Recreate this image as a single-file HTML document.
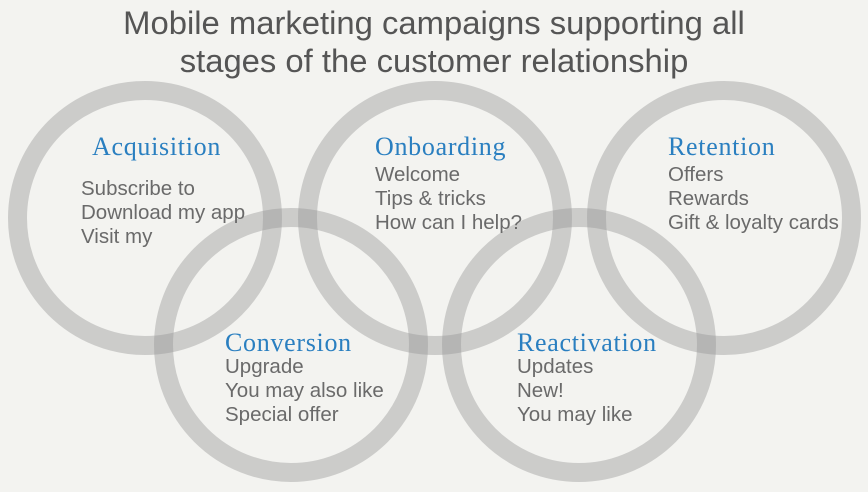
<!DOCTYPE html>
<html><head><meta charset="utf-8"><style>
html,body{margin:0;padding:0}
body{width:868px;height:492px;background:#f3f3f0;position:relative;overflow:hidden;font-family:"Liberation Sans",sans-serif}
.h{position:absolute;left:0;width:868px;top:4px;text-align:center;font-size:32.8px;line-height:38px;color:#555}
.t{position:absolute;font-family:"Liberation Serif",serif;font-size:26px;color:#2a7fc0;line-height:28px;letter-spacing:0.7px}
.b{position:absolute;font-size:20.5px;line-height:24px;color:#6a6a6a}
svg{position:absolute;left:0;top:0}
</style></head><body>
<svg width="868" height="492"><g fill="none" stroke="rgba(150,150,150,0.42)" stroke-width="19">
<circle cx="145" cy="218" r="127.5"/>
<circle cx="435" cy="218" r="127.5"/>
<circle cx="724" cy="218" r="127.5"/>
<circle cx="291" cy="345" r="127.5"/>
<circle cx="579" cy="345" r="127.5"/>
</g></svg>
<div class="h">Mobile marketing campaigns supporting all<br>stages of the customer relationship</div>
<div class="t" style="left:92px;top:133px">Acquisition</div>
<div class="b" style="left:81px;top:177px">Subscribe to<br>Download my app<br>Visit my</div>
<div class="t" style="left:375px;top:133px">Onboarding</div>
<div class="b" style="left:375px;top:163px">Welcome<br>Tips &amp; tricks<br>How can I help?</div>
<div class="t" style="left:668px;top:133px">Retention</div>
<div class="b" style="left:668px;top:163px">Offers<br>Rewards<br>Gift &amp; loyalty cards</div>
<div class="t" style="left:225px;top:329px">Conversion</div>
<div class="b" style="left:225px;top:355px">Upgrade<br>You may also like<br>Special offer</div>
<div class="t" style="left:517px;top:329px">Reactivation</div>
<div class="b" style="left:517px;top:355px">Updates<br>New!<br>You may like</div>
</body></html>
